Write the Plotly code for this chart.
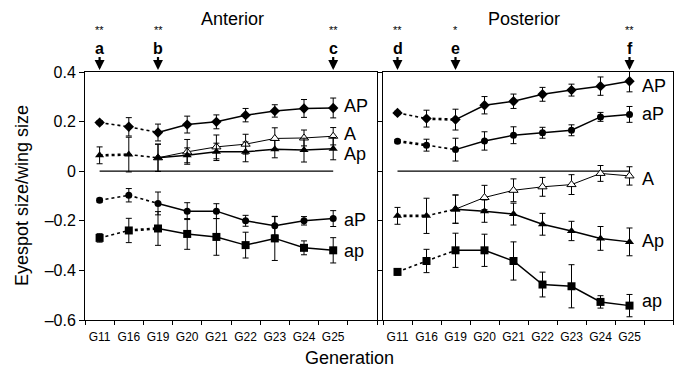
import plotly.graph_objects as go

# ---------------- data ----------------
gens = ["G11", "G16", "G19", "G20", "G21", "G22", "G23", "G24", "G25"]

# Anterior panel
ant_AP = [0.196, 0.179, 0.156, 0.188, 0.199, 0.226, 0.243, 0.253, 0.255]
ant_AP_err = [0.008, 0.037, 0.034, 0.034, 0.028, 0.027, 0.025, 0.036, 0.040]
ant_A = [None, None, 0.054, 0.078, 0.098, 0.109, 0.132, 0.134, 0.141]
ant_A_err = [None, None, 0.055, 0.050, 0.048, 0.040, 0.043, 0.032, 0.035]
ant_Ap = [0.064, 0.067, 0.054, 0.064, 0.078, 0.078, 0.089, 0.085, 0.091]
ant_Ap_err = [0.034, 0.070, 0.055, 0.030, 0.035, 0.040, 0.035, 0.048, 0.045]
ant_aP = [-0.117, -0.097, -0.130, -0.161, -0.161, -0.200, -0.220, -0.200, -0.191]
ant_aP_err = [0.008, 0.027, 0.046, 0.034, 0.030, 0.022, 0.037, 0.017, 0.032]
ant_ap = [-0.269, -0.239, -0.231, -0.253, -0.265, -0.298, -0.271, -0.309, -0.319]
ant_ap_err = [0.017, 0.049, 0.068, 0.062, 0.074, 0.052, 0.089, 0.028, 0.051]

# Posterior panel
pos_AP = [0.235, 0.212, 0.208, 0.266, 0.282, 0.310, 0.327, 0.343, 0.363]
pos_AP_err = [0.007, 0.034, 0.042, 0.035, 0.029, 0.028, 0.024, 0.037, 0.043]
pos_aP = [0.121, 0.105, 0.087, 0.122, 0.145, 0.155, 0.165, 0.219, 0.229]
pos_aP_err = [0.007, 0.024, 0.046, 0.037, 0.034, 0.022, 0.022, 0.018, 0.032]
pos_A = [None, None, -0.153, -0.106, -0.077, -0.063, -0.054, -0.009, -0.019]
pos_A_err = [None, None, 0.057, 0.049, 0.046, 0.038, 0.040, 0.032, 0.037]
pos_Ap = [-0.180, -0.180, -0.153, -0.161, -0.173, -0.214, -0.241, -0.271, -0.285]
pos_Ap_err = [0.034, 0.071, 0.057, 0.045, 0.044, 0.044, 0.039, 0.048, 0.056]
pos_ap = [-0.406, -0.362, -0.319, -0.319, -0.362, -0.457, -0.464, -0.527, -0.542]
pos_ap_err = [0.013, 0.047, 0.069, 0.065, 0.077, 0.050, 0.087, 0.025, 0.045]

y_ticks = [0.4, 0.2, 0, -0.2, -0.4, -0.6]
y_ticktext = ["0.4", "0.2", "0", "\u20130.2", "\u20130.4", "\u20130.6"]

# significance markers: (panel, generation, letter, stars)
sig_marks = [
    ("ant", "G11", "a", "**"), ("ant", "G19", "b", "**"), ("ant", "G25", "c", "**"),
    ("pos", "G11", "d", "**"), ("pos", "G19", "e", "*"), ("pos", "G25", "f", "**"),
]

# ---------------- styling ----------------
FONT = "Liberation Sans, Arial, Helvetica, sans-serif"
idx = list(range(len(gens)))
BOLD_DASH = "3px,3px"

fig = go.Figure()


def add_series(xa, ya, vals, errs, symbol, size, seg_dash, lw=1.5, mline=0):
    # dotted / dashed early segments
    for i, dash in enumerate(seg_dash):
        if vals[i] is None or vals[i + 1] is None:
            continue
        w = 2.6 if dash == BOLD_DASH else 1.6
        fig.add_trace(go.Scatter(
            x=[idx[i], idx[i + 1]], y=[vals[i], vals[i + 1]], mode="lines",
            line=dict(color="black", width=w, dash=dash),
            xaxis=xa, yaxis=ya, showlegend=False, hoverinfo="skip"))
    # solid part from G19 onwards
    fig.add_trace(go.Scatter(
        x=idx[2:], y=vals[2:], mode="lines",
        line=dict(color="black", width=lw),
        xaxis=xa, yaxis=ya, showlegend=False, hoverinfo="skip"))
    # markers + error bars
    fig.add_trace(go.Scatter(
        x=idx, y=vals, mode="markers",
        marker=dict(symbol=symbol, size=size, color="black" if mline == 0 else "white",
                    line=dict(color="black", width=mline)),
        error_y=dict(type="data", array=[e if e is not None else 0 for e in errs],
                     color="black", thickness=1, width=3),
        xaxis=xa, yaxis=ya, showlegend=False))


# zero reference lines
for xa, ya in (("x", "y"), ("x2", "y2")):
    fig.add_trace(go.Scatter(x=[idx[0], idx[-1]], y=[0, 0], mode="lines",
                             line=dict(color="black", width=1.2),
                             xaxis=xa, yaxis=ya, showlegend=False, hoverinfo="skip"))

# Anterior
add_series("x", "y", ant_A, ant_A_err, "triangle-up", 8, ["dot", "dot"], lw=1, mline=1)
add_series("x", "y", ant_AP, ant_AP_err, "diamond", 8, ["dot", "dot"])
add_series("x", "y", ant_Ap, ant_Ap_err, "triangle-up", 8, [BOLD_DASH, "dot"])
add_series("x", "y", ant_aP, ant_aP_err, "circle", 7, ["dot", "dot"])
add_series("x", "y", ant_ap, ant_ap_err, "square", 8, ["dot", BOLD_DASH])

# Posterior
add_series("x2", "y2", pos_A, pos_A_err, "triangle-up", 8, ["dot", "dot"], lw=1, mline=1)
add_series("x2", "y2", pos_AP, pos_AP_err, "diamond", 8, ["dot", BOLD_DASH])
add_series("x2", "y2", pos_aP, pos_aP_err, "circle", 7, [BOLD_DASH, "dot"])
add_series("x2", "y2", pos_Ap, pos_Ap_err, "triangle-up", 8, [BOLD_DASH, "dot"])
add_series("x2", "y2", pos_ap, pos_ap_err, "square", 8, ["dot", "dot"])

W, H = 674, 371
L, R, T, B = 85, 1, 72, 51
pw = W - L - R
ph = H - T - B


def px_x(px):
    return (px - L) / pw


def px_y(py):
    return (H - B - py) / ph


xcommon = dict(range=[-0.5, 9.5], tickmode="array", tickvals=idx, ticktext=gens,
               ticks="", showline=True, linecolor="black", linewidth=1, mirror=True,
               showgrid=False, zeroline=False,
               tickfont=dict(family=FONT, size=12, color="black"),
               ticklabelstandoff=6,
               minor=dict(tickmode="array", tickvals=[i - 0.5 for i in range(11)],
                          ticks="outside", ticklen=4, tickcolor="black", tickwidth=1,
                          showgrid=False))
ycommon = dict(range=[-0.6, 0.4], tickmode="array", tickvals=y_ticks, ticktext=y_ticktext,
               ticks="outside", ticklen=5, tickcolor="black", showline=True,
               linecolor="black", linewidth=1, mirror=True, showgrid=False, zeroline=False,
               tickfont=dict(family=FONT, size=16, color="black"))

fig.update_layout(
    width=W, height=H, margin=dict(l=L, r=R, t=T, b=B),
    paper_bgcolor="white", plot_bgcolor="white",
    font=dict(family=FONT, color="black"),
    xaxis=dict(domain=[0, px_x(377)], anchor="y", **xcommon),
    yaxis=dict(domain=[0, 1], anchor="x", **ycommon),
    xaxis2=dict(domain=[px_x(383), 1], anchor="y2", **xcommon),
    yaxis2=dict(domain=[0, 1], anchor="x2", showticklabels=False,
                **{k: v for k, v in ycommon.items() if k != "tickfont"}),
)

C = dict(xanchor="center", yanchor="middle", showarrow=False)
ann = []
# panel titles
ann.append(dict(text="Anterior", x=px_x(232), y=px_y(19), xref="paper", yref="paper",
                font=dict(size=18), **C))
ann.append(dict(text="Posterior", x=px_x(524), y=px_y(19), xref="paper", yref="paper",
                font=dict(size=18), **C))
# axis titles
ann.append(dict(text="Eyespot size/wing size", x=px_x(22), y=px_y(196), xref="paper",
                yref="paper", textangle=-90, font=dict(size=18), **C))
ann.append(dict(text="Generation", x=px_x(349), y=px_y(358), xref="paper", yref="paper",
                font=dict(size=18), **C))

# significance letters, arrows and stars
for panel, g, letter, stars in sig_marks:
    xr = "x" if panel == "ant" else "x2"
    xi = gens.index(g)
    ann.append(dict(text="<b>%s</b>" % letter, x=xi, y=px_y(70), xref=xr, yref="paper",
                    showarrow=True, ax=0, ay=-22, arrowhead=2, arrowsize=0.9,
                    arrowwidth=2.2, arrowcolor="black", font=dict(size=16),
                    borderpad=0))
    ann.append(dict(text=stars, x=xi, y=px_y(30), xref=xr, yref="paper",
                    font=dict(size=11, color="black"), borderpad=0, **C))

# series labels
labels_ant = [("AP", 0.262), ("A", 0.152), ("Ap", 0.068), ("aP", -0.197), ("ap", -0.321)]
labels_pos = [("AP", 0.345), ("aP", 0.229), ("A", -0.030), ("Ap", -0.281), ("ap", -0.524)]
for (txt, yv) in labels_ant:
    ann.append(dict(text=txt, x=idx[-1], y=yv, xref="x", yref="y", xanchor="left",
                    yanchor="middle", xshift=9, showarrow=False, font=dict(size=18)))
for (txt, yv) in labels_pos:
    ann.append(dict(text=txt, x=idx[-1], y=yv, xref="x2", yref="y2", xanchor="left",
                    yanchor="middle", xshift=10, showarrow=False, font=dict(size=18)))

fig.update_layout(annotations=ann)
fig.write_html("out.html", config={"displayModeBar": False},
               post_script="document.body.style.margin='0';document.body.style.padding='0';")
